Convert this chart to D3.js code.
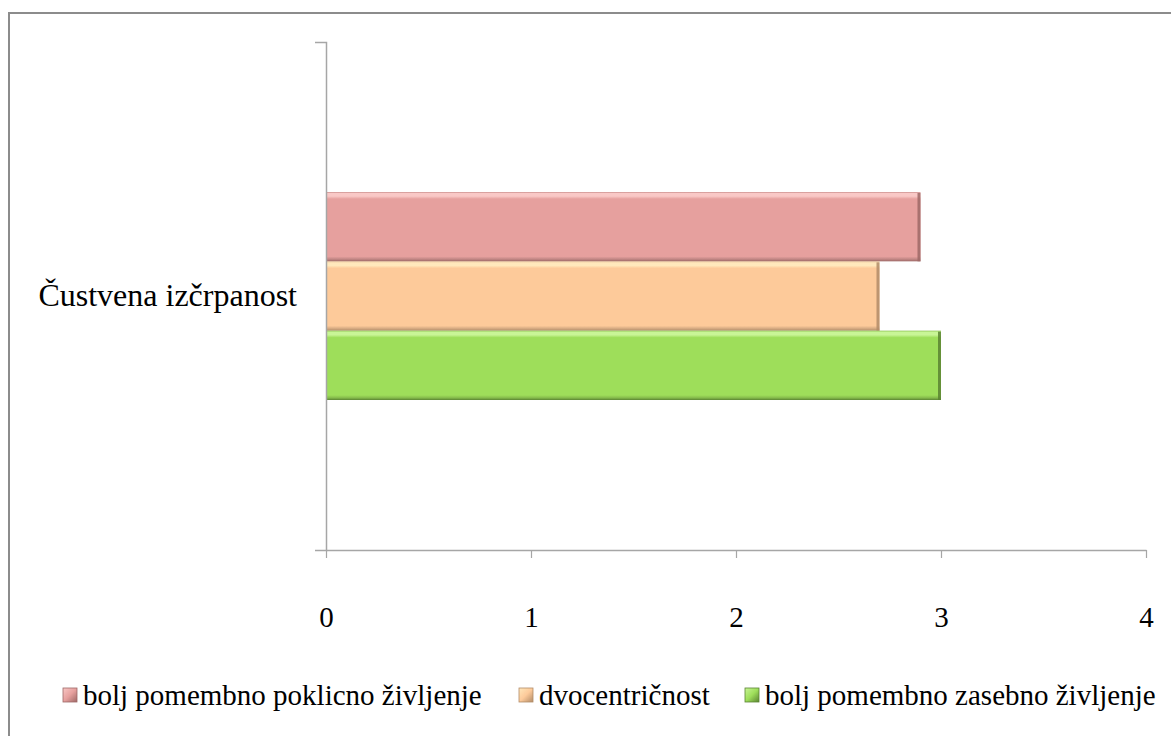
<!DOCTYPE html>
<html><head><meta charset="utf-8">
<script src="https://cdn.jsdelivr.net/npm/d3@7"></script>
</head><body style="margin:0">
<svg id="c" width="1171" height="736"></svg>
<script>
const categories = ["Čustvena izčrpanost"];
const seriesNames = ["bolj pomembno poklicno življenje", "dvocentričnost", "bolj pomembno zasebno življenje"];
const seriesValues = [[2.9], [2.7], [3.0]];
const xTicks = [0, 1, 2, 3, 4];
const colors = ["#E6A09E", "#FDCA9A", "#9EDE5A"];
const lights = ["#F9C8C6", "#FFE8BC", "#C8F596"];
const darks = ["#9E6866", "#B28C68", "#5A8432"];
const FONT = '"Liberation Serif"';

const svg = d3.select("#c");

// frame
svg.append("rect").attr("x", 9).attr("y", 13).attr("width", 1200).attr("height", 800)
  .attr("fill", "#fff").attr("stroke", "#8c8c8c").attr("stroke-width", 2);

const x = d3.scaleLinear().domain([0, 4]).range([326, 1146]);
const y = d3.scaleBand().domain(categories).range([42, 550]).padding(0.419);
const ys = d3.scaleBand().domain(d3.range(seriesNames.length)).range([0, y.bandwidth()]).padding(0);

// gradients
const defs = svg.append("defs");
colors.forEach((c, i) => {
  const g = defs.append("linearGradient").attr("id", "g" + i).attr("x1", 0).attr("y1", 0).attr("x2", 0).attr("y2", 1);
  g.append("stop").attr("offset", "0%").attr("stop-color", d3.color(c).darker(0.4));
  g.append("stop").attr("offset", "2%").attr("stop-color", lights[i]);
  g.append("stop").attr("offset", "6%").attr("stop-color", lights[i]);
  g.append("stop").attr("offset", "10%").attr("stop-color", c);
  g.append("stop").attr("offset", "93%").attr("stop-color", c);
  g.append("stop").attr("offset", "97%").attr("stop-color", d3.color(c).darker(0.5));
  g.append("stop").attr("offset", "100%").attr("stop-color", darks[i]);
  const m = defs.append("linearGradient").attr("id", "m" + i).attr("x1", 0).attr("y1", 0).attr("x2", 1).attr("y2", 1);
  m.append("stop").attr("offset", "0%").attr("stop-color", lights[i]);
  m.append("stop").attr("offset", "50%").attr("stop-color", c);
  m.append("stop").attr("offset", "100%").attr("stop-color", darks[i]);
});

// axes
const xAxis = svg.append("g").attr("transform", "translate(0,550)")
  .call(d3.axisBottom(x).tickValues(xTicks).tickFormat(d3.format("d")).tickSize(8).tickSizeOuter(0).tickPadding(48));
xAxis.attr("font-family", null).attr("font-size", null);
xAxis.select(".domain").attr("stroke", "#a6a6a6").attr("stroke-width", 1.5);
xAxis.selectAll(".tick line").attr("stroke", "#a6a6a6").attr("stroke-width", 1.2);
xAxis.selectAll(".tick text").style("font-family", FONT).attr("font-size", 29).attr("fill", "#000");

// bars
categories.forEach((cat, ci) => {
  seriesValues.forEach((vals, si) => {
    const y0 = y(cat) + ys(si), h = ys.bandwidth(), x0 = x(0), w = x(vals[ci]) - x(0);
    svg.append("rect").attr("x", x0).attr("y", y0).attr("width", w).attr("height", h).attr("fill", `url(#g${si})`);
    svg.append("rect").attr("x", x0 + w - 3).attr("y", y0 + 1).attr("width", 3).attr("height", h - 1)
      .attr("fill", darks[si]).attr("opacity", 0.85);
  });
});

const yAxis = svg.append("g").attr("transform", "translate(326,0)")
  .call(d3.axisLeft(y).tickSize(0).tickSizeOuter(11).tickPadding(29));
yAxis.attr("font-family", null).attr("font-size", null);
yAxis.select(".domain").attr("stroke", "#a6a6a6").attr("stroke-width", 1.5);
yAxis.selectAll(".tick text").style("font-family", FONT).attr("font-size", 32).attr("fill", "#000");

// legend
const legendX = [63, 519, 745];
const lg = svg.append("g").attr("transform", "translate(0,695)");
seriesNames.forEach((n, i) => {
  const it = lg.append("g").attr("transform", `translate(${legendX[i]},0)`);
  it.append("rect").attr("x", 0).attr("y", -7).attr("width", 14).attr("height", 14)
    .attr("fill", `url(#m${i})`).attr("stroke", darks[i]).attr("stroke-width", 0.8);
  it.append("text").attr("x", 20).attr("y", 0).attr("dy", "0.33em")
    .style("font-family", FONT).attr("font-size", 29).attr("fill", "#000").text(n);
});
</script>
</body></html>
